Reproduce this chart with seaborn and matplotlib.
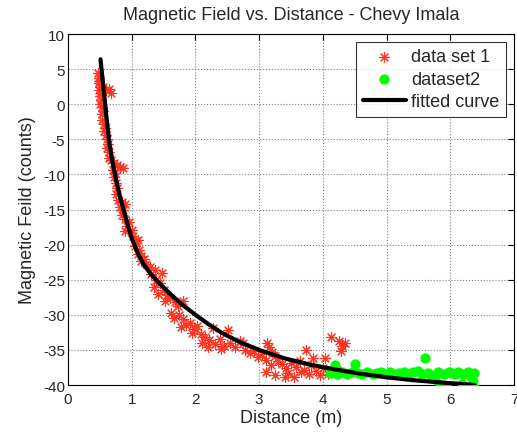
import numpy as np
import pandas as pd
import matplotlib
matplotlib.use('Agg')
import matplotlib.pyplot as plt
import seaborn as sns

# data set 1 (red asterisks)
d1_x = [0.47, 0.48, 0.48, 0.49, 0.50, 0.49, 0.52, 0.55, 0.60, 0.65, 0.68, 0.50, 0.52, 0.51,
        0.53, 0.55, 0.53, 0.54, 0.56, 0.58, 0.56, 0.59, 0.61, 0.63, 0.62, 0.65, 0.64,
        0.68, 0.72, 0.77, 0.82, 0.86, 0.70, 0.74, 0.72, 0.75, 0.77, 0.76, 0.79, 0.84, 0.90,
        0.82, 0.87, 0.85, 0.90, 0.95, 0.92, 0.89, 1.00,
        1.02, 1.06, 1.10, 1.05, 1.12, 1.10, 1.15, 1.20, 1.14, 1.22, 1.28, 1.36, 1.47, 1.30,
        1.38, 1.45, 1.35, 1.50, 1.42, 1.55, 1.60, 1.52, 1.68, 1.81, 1.72,
        1.62, 1.66, 1.74, 1.80, 1.85, 1.78, 1.92, 1.98, 2.02, 1.95, 2.08, 2.15, 2.28, 2.22,
        2.10, 2.30, 2.38, 2.51, 2.45, 2.55, 2.20, 2.40,
        2.62, 2.70, 2.75, 2.78, 2.85, 2.92, 2.98, 3.05, 3.12, 3.16, 3.20, 3.10, 3.25, 3.30,
        3.18, 3.36, 3.42, 3.46, 3.50, 3.40, 3.58, 3.64, 3.70, 3.74,
        3.78, 3.85, 3.82, 3.90, 3.95, 4.03, 4.00, 4.08, 4.13, 4.18, 4.26, 4.30, 4.28, 4.34,
        4.22, 3.10, 3.25, 3.55, 3.65]
d1_y = [4.4, 3.8, 3.0, 3.3, 2.5, 2.0, 1.8, 2.4, 2.0, 2.2, 1.6, 1.2, 0.6, 0.0,
        -0.4, -1.0, -1.4, -2.2, -2.8, -3.4, -3.8, -4.4, -5.0, -5.6, -6.3, -6.8, -7.6,
        -8.0, -8.4, -8.6, -8.9, -9.1, -9.3, -9.8, -10.4, -11.2, -12.0, -12.8, -13.6, -13.9, -14.2,
        -14.6, -15.1, -15.8, -16.4, -16.8, -17.3, -18.1, -17.9,
        -18.8, -19.5, -19.3, -20.2, -20.7, -21.3, -21.6, -22.0, -22.4, -22.8, -23.2, -23.6, -24.0, -24.2,
        -25.0, -25.4, -26.0, -26.4, -27.0, -27.2, -27.6, -28.0, -28.2, -28.1, -28.8,
        -29.8, -30.4, -30.0, -30.6, -31.4, -31.8, -31.2, -32.0, -31.6, -32.6, -32.8, -33.2, -31.9, -33.6,
        -34.0, -34.2, -33.4, -32.1, -34.4, -34.0, -34.6, -34.8,
        -34.6, -33.7, -34.0, -35.0, -35.4, -35.2, -36.0, -35.6, -34.0, -34.6, -35.3, -36.4, -35.8, -36.6,
        -37.2, -37.0, -37.6, -38.3, -36.8, -38.8, -37.4, -36.6, -37.8, -35.0,
        -38.4, -36.2, -37.2, -38.0, -38.6, -36.2, -37.6, -38.4, -33.1, -38.0, -33.8, -34.4, -35.2, -34.0,
        -37.8, -38.2, -38.6, -38.9, -38.2]

# dataset2 (green dots)
d2_x = [4.12, 4.19, 4.22, 4.30, 4.38, 4.45, 4.50, 4.55, 4.62, 4.70, 4.78, 4.85, 4.92, 5.00,
        5.06, 5.12, 5.20, 5.28, 5.35, 5.42, 5.50, 5.55, 5.61, 5.65, 5.70, 5.76, 5.80, 5.84,
        5.90, 5.94, 5.98, 6.03, 6.08, 6.12, 6.18, 6.20, 6.24, 6.28, 6.32, 6.35, 6.38, 6.37]
d2_y = [-38.3, -37.1, -38.5, -38.2, -38.4, -38.1, -37.0, -38.3, -38.5, -38.2, -38.4, -38.3, -38.1, -38.4,
        -38.2, -38.5, -38.3, -38.1, -38.4, -38.2, -38.0, -38.5, -36.2, -38.3, -38.6, -39.2, -38.2, -40.0,
        -38.4, -40.2, -38.1, -38.3, -38.5, -38.2, -39.8, -38.4, -40.3, -38.2, -38.8, -39.4, -40.3, -38.3]

# fitted curve
fit_x = [0.51, 0.55, 0.60, 0.65, 0.70, 0.75, 0.80, 0.90, 1.00, 1.10, 1.20, 1.30, 1.40, 1.50,
         1.60, 1.80, 2.00, 2.20, 2.40, 2.70, 3.00, 3.40, 3.80, 4.20, 4.60, 5.00, 5.40, 5.80,
         6.10, 6.38]
fit_y = [6.4, 3.0, -1.5, -5.6, -8.3, -10.5, -12.6, -16.0, -19.1, -21.3, -23.0, -24.2, -25.2, -26.1,
         -27.0, -28.6, -30.0, -31.3, -32.5, -33.9, -35.0, -36.2, -37.1, -37.8, -38.4, -38.9, -39.3, -39.6,
         -39.8, -40.0]

sns.set_style('white')
plt.rcParams['font.family'] = ['Liberation Sans', 'DejaVu Sans']
plt.rcParams['axes.unicode_minus'] = False

fig = plt.figure(figsize=(5.17, 4.35), dpi=100)
ax = fig.add_axes([0.1315, 0.1126, 0.8627, 0.8069])

red = '#ff3322'
sns.scatterplot(x=d1_x, y=d1_y, ax=ax, marker=(8, 2, 0), s=50, color=red,
                edgecolor=red, linewidth=0.8, label='data set 1', zorder=3)
sns.scatterplot(x=d2_x, y=d2_y, ax=ax, marker='o', s=55, color='#00ff00',
                edgecolor='#00ff00', linewidth=0, label='dataset2', zorder=4)
sns.lineplot(x=fit_x, y=fit_y, ax=ax, color='black', linewidth=3, label='fitted curve',
             zorder=5, sort=False)

ax.set_xlim(0, 7)
ax.set_ylim(-40, 10)
ax.set_xticks(range(0, 8))
ax.set_yticks(range(-40, 11, 5))
ax.grid(True, linestyle=':', color='#808080', linewidth=0.8)
ax.tick_params(direction='in', top=True, right=True, labelsize=11, length=4, pad=2,
               color='black')
ax.tick_params(axis='x', pad=5)
for sp in ax.spines.values():
    sp.set_color('black')
    sp.set_linewidth(0.8)

ax.set_title('Magnetic Field vs. Distance - Chevy Imala', fontsize=13, pad=11)
ax.set_xlabel('Distance (m)', fontsize=13, labelpad=2)
ax.set_ylabel('Magnetic Feild (counts)', fontsize=13, labelpad=5)

leg = ax.legend(loc='upper right', fontsize=13, frameon=True, fancybox=False,
                borderpad=0.35, handlelength=2.4, labelspacing=0.3, handletextpad=0.3,
                borderaxespad=0.45)
leg.get_frame().set_edgecolor('black')
leg.get_frame().set_linewidth(0.8)

fig.savefig('out.png', dpi=100)
